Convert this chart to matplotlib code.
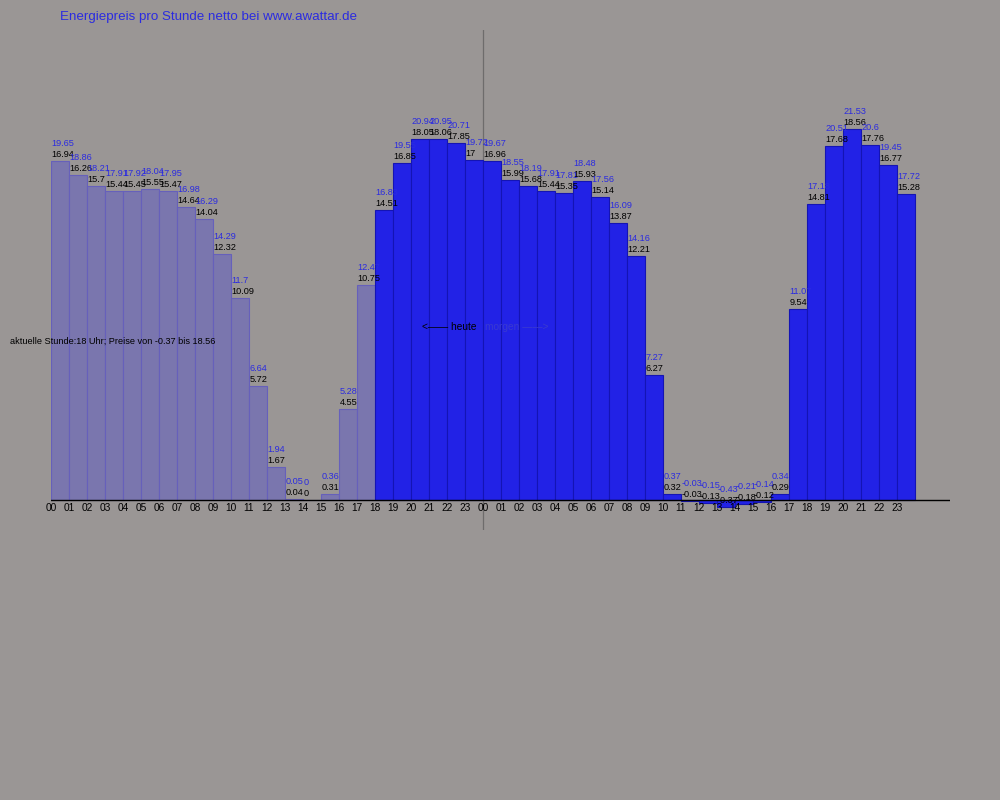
import matplotlib
matplotlib.use("Agg")
import matplotlib.pyplot as plt

hours = ["00", "01", "02", "03", "04", "05", "06", "07", "08", "09", "10", "11",
         "12", "13", "14", "15", "16", "17", "18", "19", "20", "21", "22", "23"]
tick_labels = hours + hours

# net price (bar height, black label) ct/kWh
net_today = [16.94, 16.26, 15.7, 15.44, 15.45, 15.55, 15.47, 14.64, 14.04, 12.32, 10.09, 5.72,
             1.67, 0.04, 0, 0.31, 4.55, 10.75, 14.51, 16.85, 18.05, 18.06, 17.85, 17]
net_tomorrow = [16.96, 15.99, 15.68, 15.44, 15.35, 15.93, 15.14, 13.87, 12.21, 6.27, 0.32, -0.03,
                -0.13, -0.37, -0.18, -0.12, 0.29, 9.54, 14.81, 17.68, 18.56, 17.76, 16.77, 15.28]
# gross price (blue label)
gross_today = ["19.65", "18.86", "18.21", "17.91", "17.92", "18.04", "17.95", "16.98", "16.29", "14.29", "11.7", "6.64",
               "1.94", "0.05", "0", "0.36", "5.28", "12.47", "16.83", "19.55", "20.94", "20.95", "20.71", "19.72"]
gross_tomorrow = ["19.67", "18.55", "18.19", "17.91", "17.81", "18.48", "17.56", "16.09", "14.16", "7.27", "0.37", "-0.03",
                  "-0.15", "-0.43", "-0.21", "-0.14", "0.34", "11.07", "17.18", "20.51", "21.53", "20.6", "19.45", "17.72"]

current_hour = 18
title = "Energiepreis pro Stunde netto bei www.awattar.de"
info = "aktuelle Stunde:18 Uhr; Preise von -0.37 bis 18.56"

net = net_today + net_tomorrow
gross = gross_today + gross_tomorrow

BG = "#9a9695"
PURPLE = "#7a76ae"
PURPLE_E = "#6660bb"
BLUE = "#2222e6"
BLUE_E = "#1414b4"
LBLUE = "#2b2be0"

plt.rcParams['font.family'] = ['Liberation Sans', 'DejaVu Sans']

fig = plt.figure(figsize=(10, 8), dpi=100, facecolor=BG)
ax = fig.add_axes([0.051, 0.3375, 0.899, 0.625])
ax.set_facecolor(BG)
ax.set_xlim(0, 899 / 18)
ax.set_ylim(-1.5, 23.5)
ax.axis("off")

xs = list(range(len(net)))
colors = [PURPLE if i < current_hour else BLUE for i in xs]
edges = [PURPLE_E if i < current_hour else BLUE_E for i in xs]
ax.bar(xs, net, width=1.0, align="edge", color=colors, edgecolor=edges, linewidth=0.8, zorder=2)

ax.plot([0, 899 / 18], [0, 0], color="black", linewidth=1.0, zorder=3)
ax.axvline(24, color="#6e6c6c", linewidth=0.9, zorder=1)

for i, (n, g) in enumerate(zip(net, gross)):
    ax.text(i + 0.02, n + 0.2, f"{n:g}", ha="left", va="baseline", fontsize=6.6, color="black", zorder=5)
    ax.text(i + 0.02, n + 0.75, g, ha="left", va="baseline", fontsize=6.6, color=LBLUE, zorder=5)
for i, lab in enumerate(tick_labels):
    ax.text(i, -0.15, lab, ha="center", va="top", fontsize=7.3, color="black")

fig.text(0.06, 1 - 20 / 800, title, ha="left", va="baseline", fontsize=9.6, color=LBLUE)
fig.text(0.010, 1 - 341 / 800, info, ha="left", va="center", fontsize=6.6, color="black")
fig.text(0.477, 1 - 327 / 800, "<\u2014\u2014 heute", ha="right", va="center", fontsize=7.3, color="black")
fig.text(0.485, 1 - 327 / 800, "morgen \u2014\u2014>", ha="left", va="center", fontsize=7.3, color="#3a3ad0")

fig.savefig("out.png", dpi=100, facecolor=BG)
